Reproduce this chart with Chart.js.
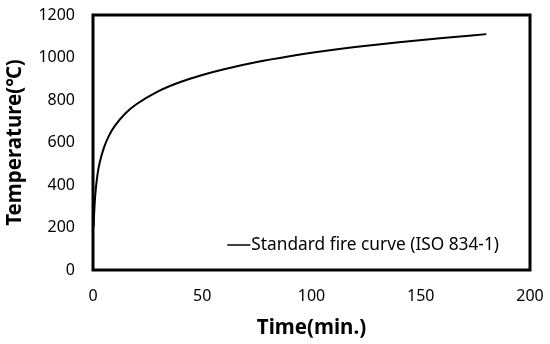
<!DOCTYPE html>
<html>
<head>
<meta charset="utf-8">
<script src="https://cdn.jsdelivr.net/npm/chart.js@4/dist/chart.umd.min.js"></script>
<style>
  html,body{margin:0;padding:0;background:#fff;}
  #wrap{width:550px;height:344px;position:relative;}
</style>
</head>
<body>
<div id="wrap"><canvas id="c"></canvas></div>
<script>
// values
const timeMin = [0.3, 0.5, 1, 2, 3, 5, 7.5, 10, 15, 20, 30, 40, 50, 60, 75, 90, 105, 120, 140, 160, 180];
const tempC   = [203, 261, 349, 445, 502, 576, 636, 678, 739, 781, 842, 885, 918, 945, 979, 1006, 1029, 1049, 1072, 1092, 1110];
const seriesName = 'Standard fire curve (ISO 834-1)';
const xTitle = 'Time(min.)';
const yTitle = 'Temperature(\u2103)';

const FONT = 'Noto Sans';

// frame around plot area + legend inside bottom right
const framePlugin = {
  id:'frame',
  afterDatasetsDraw(chart) {
    const {ctx, chartArea:a} = chart;
    ctx.save();
    ctx.strokeStyle = '#000';
    ctx.lineWidth = 3;
    ctx.strokeRect(a.left, a.top, a.right - a.left, a.bottom - a.top);
    // legend
    ctx.font = '17.3px "' + FONT + '"';
    ctx.textBaseline = 'middle';
    ctx.textAlign = 'right';
    const y = a.bottom - 25;
    const xr = a.right - 31;
    const w = ctx.measureText(seriesName).width;
    ctx.fillStyle = '#000';
    ctx.fillText(seriesName, xr, y);
    ctx.lineWidth = 1.5;
    ctx.beginPath();
    ctx.moveTo(xr - w - 24, y);
    ctx.lineTo(xr - w - 1, y);
    ctx.stroke();
    ctx.restore();
  }
};

new Chart(document.getElementById('c'), {
  type:'line',
  data:{ datasets:[{
    label: seriesName,
    data: timeMin.map((t,i)=>({x:t, y:tempC[i]})),
    borderColor:'#000', borderWidth:2, pointRadius:0,
    tension:0.4, cubicInterpolationMode:'monotone', fill:false
  }] },
  options:{
    responsive:true, maintainAspectRatio:false, animation:false,
    layout:{ autoPadding:false, padding:{ left:0, right:20, top:15, bottom:0 } },
    plugins:{ legend:{display:false}, tooltip:{enabled:false} },
    scales:{
      x:{ type:'linear', min:0, max:200,
        afterFit:s=>{ s.height = 74; s.paddingLeft = 0; s.paddingRight = 0; },
        grid:{display:false, drawTicks:false}, border:{display:false},
        ticks:{ stepSize:50, color:'#000', padding:17, font:{family:FONT, size:16} },
        title:{ display:true, text:xTitle, color:'#000', padding:{top:2, bottom:4}, font:{family:FONT, size:20.5, weight:'bold'} }
      },
      y:{ min:0, max:1200,
        afterFit:s=>{ s.width = 93; s.paddingTop = 0; s.paddingBottom = 0; },
        grid:{display:false, drawTicks:false}, border:{display:false},
        ticks:{ stepSize:200, color:'#000', padding:18, font:{family:FONT, size:16}, callback:v=>String(v) },
        title:{ display:true, text:yTitle, color:'#000', padding:{top:3, bottom:2}, font:{family:FONT, size:20.5, weight:'bold'} }
      }
    }
  },
  plugins:[framePlugin]
});
</script>
</body>
</html>
